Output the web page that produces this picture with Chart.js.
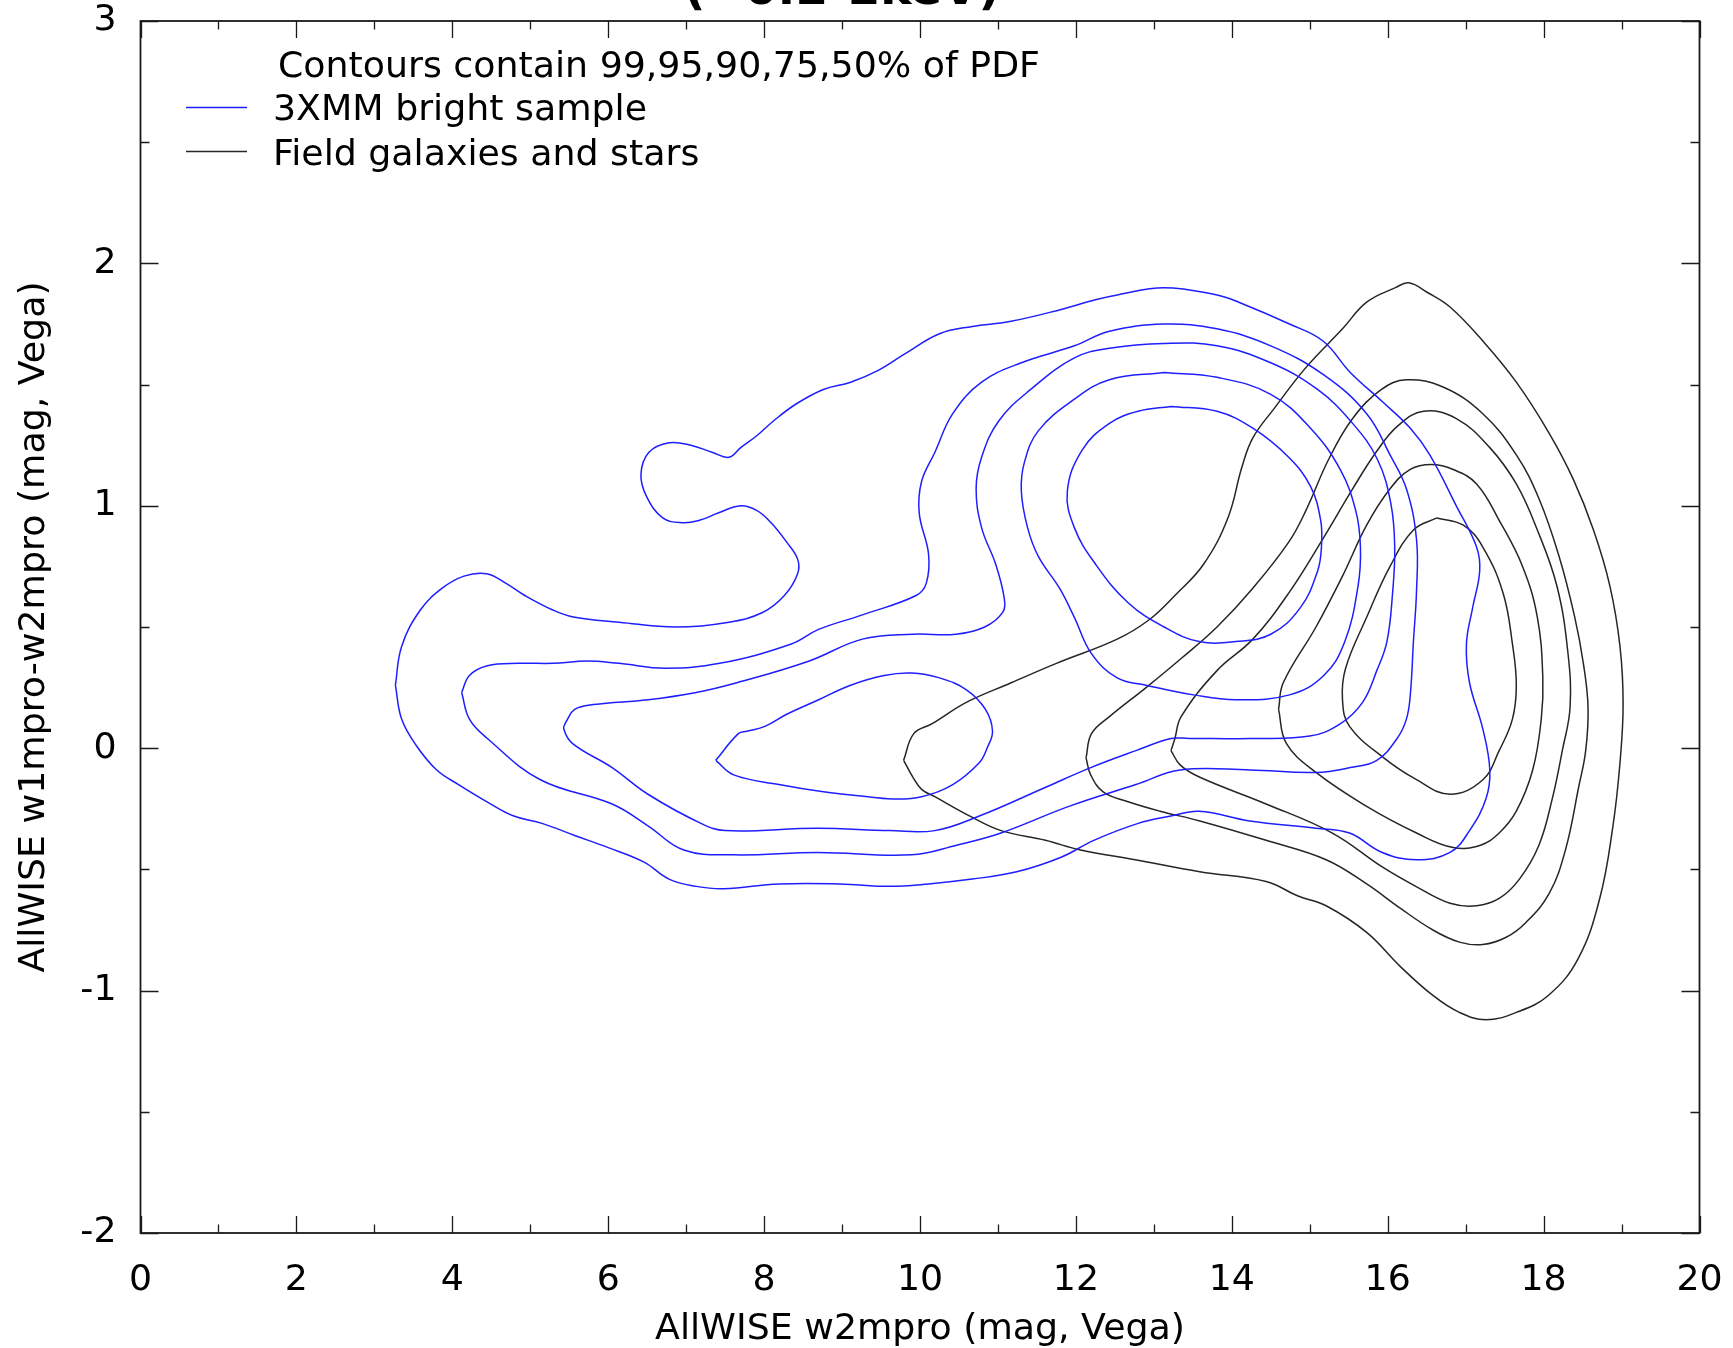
<!DOCTYPE html>
<html>
<head>
<meta charset="utf-8">
<title>AllWISE colour-magnitude contours</title>
<script src="https://cdn.jsdelivr.net/npm/chart.js@4.4.1/dist/chart.umd.min.js"></script>
<style>
  html, body { margin: 0; padding: 0; background: #ffffff; }
  #wrap { width: 1733px; height: 1348px; position: relative; }
</style>
</head>
<body>
<div id="wrap"><canvas id="chart"></canvas></div>
<script>
// Axis ranges and tick spacing
const X_RANGE = [0, 20];
const Y_RANGE = [-2, 3];
const X_MAJOR = 2, X_MINOR = 1;
const Y_MAJOR = 1, Y_MINOR = 0.5;

// Text
const HEADER_TEXT = 'Contours contain 99,95,90,75,50% of PDF';
const SERIES_NAMES = ['3XMM bright sample', 'Field galaxies and stars'];
const TOP_TITLE = '(~0.2-2keV)';
const X_TITLE = 'AllWISE w2mpro (mag, Vega)';
const Y_TITLE = 'AllWISE w1mpro-w2mpro (mag, Vega)';

// 3XMM bright sample: density contours (w2mpro, w1mpro-w2mpro)
const blue99 = [[3.27,0.26],[3.35,0.42],[3.59,0.57],[3.87,0.66],[4.15,0.71],[4.44,0.72],[4.69,0.68],[4.93,0.63],[5.29,0.57],[5.57,0.54],[6.14,0.52],[6.87,0.50],[7.55,0.52],[7.98,0.56],[8.26,0.63],[8.43,0.72],[8.43,0.78],[8.29,0.85],[8.09,0.93],[7.91,0.98],[7.70,1.00],[7.41,0.97],[7.17,0.94],[6.95,0.93],[6.70,0.95],[6.49,1.04],[6.42,1.13],[6.52,1.22],[6.78,1.26],[7.06,1.25],[7.34,1.22],[7.55,1.20],[7.70,1.24],[7.91,1.29],[8.12,1.35],[8.41,1.42],[8.76,1.48],[9.11,1.51],[9.47,1.56],[9.82,1.63],[10.25,1.71],[10.67,1.74],[11.15,1.76],[11.81,1.81],[12.25,1.85],[12.53,1.87],[13.13,1.90],[13.81,1.87],[14.09,1.84],[14.74,1.75],[15.17,1.68],[15.52,1.55],[15.93,1.43],[16.29,1.32],[16.54,1.21],[16.88,1.00],[17.14,0.83],[17.18,0.73],[17.09,0.58],[17.01,0.43],[17.05,0.27],[17.22,0.08],[17.31,-0.09],[17.26,-0.21],[17.05,-0.34],[16.80,-0.43],[16.37,-0.46],[15.93,-0.43],[15.51,-0.35],[15.08,-0.33],[14.23,-0.30],[13.58,-0.26],[13.22,-0.28],[12.80,-0.31],[12.23,-0.38],[11.81,-0.45],[11.24,-0.51],[10.67,-0.54],[10.11,-0.56],[9.61,-0.57],[8.97,-0.56],[8.19,-0.56],[7.48,-0.58],[7.13,-0.57],[6.78,-0.54],[6.46,-0.47],[6.00,-0.41],[5.57,-0.36],[5.15,-0.31],[4.79,-0.28],[4.44,-0.22],[4.08,-0.15],[3.80,-0.09],[3.54,0.01],[3.35,0.12]];
const blue95 = [[4.12,0.23],[4.22,0.30],[4.45,0.34],[4.86,0.35],[5.29,0.35],[5.73,0.36],[6.14,0.35],[6.73,0.33],[7.43,0.35],[8.35,0.43],[8.70,0.49],[9.26,0.55],[9.95,0.63],[10.08,0.68],[10.11,0.80],[9.99,0.97],[10.02,1.10],[10.19,1.22],[10.42,1.38],[10.79,1.51],[11.30,1.59],[11.98,1.66],[12.43,1.72],[13.13,1.75],[13.81,1.73],[14.50,1.66],[15.18,1.54],[15.73,1.38],[16.03,1.21],[16.24,1.07],[16.37,0.86],[16.37,0.65],[16.33,0.44],[16.29,0.22],[16.24,0.12],[16.12,0.04],[15.86,-0.05],[15.52,-0.08],[15.08,-0.10],[14.23,-0.09],[13.34,-0.09],[12.77,-0.15],[11.91,-0.24],[11.04,-0.35],[10.47,-0.40],[9.89,-0.44],[8.69,-0.43],[7.61,-0.44],[6.97,-0.42],[6.51,-0.32],[6.05,-0.23],[5.13,-0.13],[4.45,0.04],[4.22,0.12]];
const blue90 = [[5.46,0.11],[5.57,0.16],[5.81,0.18],[6.51,0.20],[7.13,0.23],[7.65,0.27],[8.58,0.36],[9.26,0.45],[9.91,0.47],[10.46,0.47],[10.83,0.50],[11.06,0.56],[11.08,0.62],[10.97,0.76],[10.79,0.91],[10.72,1.07],[10.79,1.20],[11.01,1.35],[11.42,1.48],[11.98,1.61],[12.43,1.65],[13.13,1.67],[13.81,1.66],[14.50,1.59],[15.10,1.48],[15.55,1.34],[15.87,1.19],[16.04,1.01],[16.09,0.83],[16.06,0.63],[15.99,0.44],[15.86,0.32],[15.68,0.19],[15.39,0.10],[15.00,0.05],[14.23,0.04],[13.45,0.04],[13.22,0.04],[12.77,-0.01],[12.19,-0.08],[11.62,-0.16],[10.76,-0.28],[10.19,-0.34],[9.61,-0.34],[8.69,-0.33],[7.50,-0.34],[7.19,-0.31],[6.51,-0.19],[6.05,-0.08],[5.54,0.02],[5.43,0.08]];
const blue75 = [[13.13,1.55],[13.81,1.53],[14.50,1.46],[15.01,1.32],[15.39,1.15],[15.59,0.98],[15.65,0.83],[15.62,0.67],[15.45,0.44],[15.18,0.30],[14.74,0.22],[14.05,0.20],[13.51,0.22],[12.90,0.26],[12.53,0.29],[12.20,0.39],[11.98,0.54],[11.79,0.66],[11.52,0.79],[11.38,0.91],[11.30,1.06],[11.34,1.18],[11.52,1.31],[11.98,1.44],[12.43,1.52]];
const blue75b = [[7.38,-0.05],[7.67,0.06],[7.78,0.07],[8.01,0.09],[8.29,0.14],[8.70,0.20],[9.11,0.26],[9.54,0.30],[9.89,0.31],[10.25,0.29],[10.60,0.24],[10.84,0.16],[10.93,0.07],[10.86,0.00],[10.76,-0.06],[10.42,-0.15],[10.02,-0.20],[9.71,-0.21],[9.33,-0.20],[8.76,-0.18],[8.19,-0.15],[7.61,-0.11]];
const blue50 = [[13.22,1.41],[13.81,1.39],[14.27,1.32],[14.73,1.20],[15.01,1.08],[15.14,0.94],[15.15,0.83],[15.10,0.73],[14.88,0.58],[14.50,0.47],[14.05,0.44],[13.58,0.44],[13.13,0.50],[12.67,0.60],[12.25,0.76],[11.98,0.91],[11.89,1.06],[12.08,1.23],[12.43,1.34],[12.80,1.39]];

// Field galaxies and stars: density contours
const black99 = [[9.79,-0.05],[9.92,0.06],[10.15,0.10],[10.60,0.19],[11.17,0.27],[11.75,0.35],[12.53,0.45],[12.94,0.53],[13.27,0.63],[13.64,0.76],[13.95,0.95],[14.13,1.16],[14.27,1.28],[14.54,1.40],[14.95,1.57],[15.42,1.73],[15.73,1.84],[16.10,1.90],[16.27,1.92],[16.51,1.88],[16.80,1.82],[17.22,1.68],[17.65,1.51],[18.07,1.30],[18.38,1.11],[18.64,0.90],[18.85,0.67],[18.98,0.42],[19.02,0.18],[18.98,-0.06],[18.89,-0.32],[18.72,-0.62],[18.44,-0.87],[18.06,-1.02],[17.65,-1.09],[17.26,-1.12],[16.92,-1.09],[16.58,-1.02],[16.16,-0.90],[15.73,-0.76],[15.21,-0.65],[14.85,-0.61],[14.44,-0.55],[13.59,-0.51],[12.76,-0.46],[12.06,-0.42],[11.61,-0.38],[11.04,-0.34],[10.64,-0.28],[10.19,-0.20],[10.02,-0.17],[9.91,-0.12]];
const black95 = [[12.13,-0.04],[12.20,0.06],[12.43,0.13],[12.90,0.25],[13.35,0.37],[13.81,0.50],[14.27,0.66],[14.73,0.85],[14.95,0.98],[15.24,1.19],[15.55,1.36],[15.92,1.48],[16.24,1.52],[16.71,1.49],[17.22,1.38],[17.65,1.21],[17.94,1.03],[18.20,0.79],[18.40,0.54],[18.51,0.35],[18.57,0.17],[18.54,-0.01],[18.45,-0.16],[18.28,-0.42],[18.07,-0.60],[17.77,-0.72],[17.52,-0.78],[17.22,-0.81],[16.92,-0.80],[16.58,-0.75],[16.16,-0.66],[15.73,-0.56],[15.21,-0.46],[14.44,-0.38],[13.59,-0.30],[13.08,-0.26],[12.66,-0.22],[12.35,-0.18],[12.19,-0.11]];
const black90 = [[13.22,-0.01],[13.27,0.04],[13.35,0.13],[13.81,0.32],[14.27,0.45],[14.73,0.64],[15.18,0.87],[15.55,1.07],[15.87,1.23],[16.13,1.33],[16.46,1.39],[16.88,1.36],[17.31,1.24],[17.65,1.09],[17.92,0.90],[18.17,0.67],[18.31,0.40],[18.34,0.17],[18.24,-0.01],[18.11,-0.21],[17.94,-0.40],[17.69,-0.54],[17.43,-0.62],[17.14,-0.65],[16.80,-0.64],[16.36,-0.57],[15.93,-0.49],[15.29,-0.35],[14.44,-0.23],[13.59,-0.12],[13.34,-0.07]];
const black75 = [[14.60,0.16],[14.66,0.27],[15.08,0.50],[15.42,0.71],[15.73,0.92],[16.03,1.07],[16.29,1.15],[16.56,1.17],[16.84,1.15],[17.14,1.09],[17.43,0.94],[17.73,0.75],[17.92,0.54],[17.99,0.29],[17.97,0.12],[17.86,-0.09],[17.65,-0.26],[17.43,-0.35],[17.19,-0.40],[16.84,-0.41],[16.37,-0.35],[15.73,-0.24],[15.08,-0.10],[14.70,0.02]];
const black50 = [[16.63,0.95],[16.97,0.92],[17.22,0.83],[17.48,0.64],[17.60,0.43],[17.65,0.26],[17.60,0.12],[17.43,-0.01],[17.22,-0.13],[16.80,-0.19],[16.37,-0.13],[15.95,-0.04],[15.51,0.09],[15.42,0.20],[15.46,0.33],[15.73,0.54],[16.03,0.75],[16.33,0.90]];

const BLUE = '#1e1eff';
const DARK = '#262626';
const FONT = '"DejaVu Sans", "Liberation Sans", sans-serif';
const FONT_SIZE = 36.3;

// Closed contour -> scatter points, repeating the first vertex to close the loop
function loop(pairs) {
  const pts = pairs.map(([x, y]) => ({ x, y }));
  pts.push({ x: pairs[0][0], y: pairs[0][1] });
  return pts;
}
function contour(pairs, name, color) {
  return {
    label: name,
    data: loop(pairs),
    showLine: true,
    fill: false,
    borderColor: color,
    backgroundColor: color,
    borderWidth: 1.5,
    pointRadius: 0,
    pointHoverRadius: 0,
    tension: 0.4
  };
}

const datasets = [
  ...[blue99, blue95, blue90, blue75, blue75b, blue50].map(c => contour(c, SERIES_NAMES[0], BLUE)),
  ...[black99, black95, black90, black75, black50].map(c => contour(c, SERIES_NAMES[1], DARK))
];

// Keep the plot box fixed: tick labels may overhang the page margins
function noScalePadding(scale) {
  scale.paddingTop = 0;
  scale.paddingBottom = 0;
  scale.paddingLeft = 0;
  scale.paddingRight = 0;
}

// Frame with inward major/minor ticks on all four sides, plus the key
const framePlugin = {
  id: 'frameAndKey',
  afterDraw(chart) {
    const { ctx, chartArea: a, scales: { x, y } } = chart;
    ctx.save();
    ctx.strokeStyle = '#1a1a1a';
    ctx.lineWidth = 1.3;
    ctx.beginPath();
    const nx = Math.round((X_RANGE[1] - X_RANGE[0]) / X_MINOR);
    for (let i = 0; i <= nx; i++) {
      const v = X_RANGE[0] + i * X_MINOR;
      const major = Math.abs(v / X_MAJOR - Math.round(v / X_MAJOR)) < 1e-9;
      const len = major ? 17 : 8.5;
      const px = Math.round(x.getPixelForValue(v)) + 0.5;
      ctx.moveTo(px, a.bottom); ctx.lineTo(px, a.bottom - len);
      ctx.moveTo(px, a.top); ctx.lineTo(px, a.top + len);
    }
    const ny = Math.round((Y_RANGE[1] - Y_RANGE[0]) / Y_MINOR);
    for (let i = 0; i <= ny; i++) {
      const v = Y_RANGE[0] + i * Y_MINOR;
      const major = Math.abs(v / Y_MAJOR - Math.round(v / Y_MAJOR)) < 1e-9;
      const len = major ? 18 : 9;
      const py = Math.round(y.getPixelForValue(v)) + 0.5;
      ctx.moveTo(a.left, py); ctx.lineTo(a.left + len, py);
      ctx.moveTo(a.right, py); ctx.lineTo(a.right - len, py);
    }
    ctx.stroke();
    ctx.lineWidth = 1.8;
    ctx.strokeRect(a.left, a.top, a.right - a.left, a.bottom - a.top);

    // key
    ctx.fillStyle = '#000';
    ctx.font = FONT_SIZE + 'px ' + FONT;
    ctx.textAlign = 'left';
    ctx.textBaseline = 'alphabetic';
    ctx.fillText(HEADER_TEXT, 278, 77);
    const rows = [
      { name: SERIES_NAMES[0], color: BLUE, lineY: 107.5, base: 120 },
      { name: SERIES_NAMES[1], color: DARK, lineY: 151.5, base: 165 }
    ];
    rows.forEach(r => {
      ctx.strokeStyle = r.color;
      ctx.lineWidth = 1.5;
      ctx.beginPath();
      ctx.moveTo(186, r.lineY); ctx.lineTo(247, r.lineY);
      ctx.stroke();
      ctx.fillText(r.name, 273, r.base);
    });

    // heading, mostly above the top edge of the page
    ctx.font = 'bold 47px ' + FONT;
    ctx.fillText(TOP_TITLE, 684, 4);
    ctx.restore();
  }
};

new Chart(document.getElementById('chart'), {
  type: 'scatter',
  data: { datasets },
  options: {
    responsive: true,
    maintainAspectRatio: false,
    animation: false,
    events: [],
    layout: { padding: { top: 21, right: 33.5, left: 0, bottom: 0 } },
    plugins: { legend: { display: false }, tooltip: { enabled: false } },
    scales: {
      x: {
        type: 'linear',
        min: X_RANGE[0], max: X_RANGE[1],
        grid: { display: false, drawTicks: false },
        border: { display: false },
        ticks: { stepSize: X_MAJOR, color: '#000', padding: 26, font: { family: FONT, size: FONT_SIZE }, maxRotation: 0 },
        title: { display: true, text: X_TITLE, color: '#000', font: { family: FONT, size: FONT_SIZE, lineHeight: 1 }, padding: { top: 0, bottom: 0 } },
        afterFit(scale) { scale.height = 115; noScalePadding(scale); }
      },
      y: {
        type: 'linear',
        min: Y_RANGE[0], max: Y_RANGE[1],
        grid: { display: false, drawTicks: false },
        border: { display: false },
        ticks: { stepSize: Y_MAJOR, color: '#000', padding: 24, font: { family: FONT, size: FONT_SIZE } },
        title: { display: true, text: Y_TITLE, color: '#000', font: { family: FONT, size: FONT_SIZE, lineHeight: 1 }, padding: { top: 16, bottom: 0 } },
        afterFit(scale) { scale.width = 140.5; noScalePadding(scale); }
      }
    }
  },
  plugins: [framePlugin]
});
</script>
</body>
</html>
